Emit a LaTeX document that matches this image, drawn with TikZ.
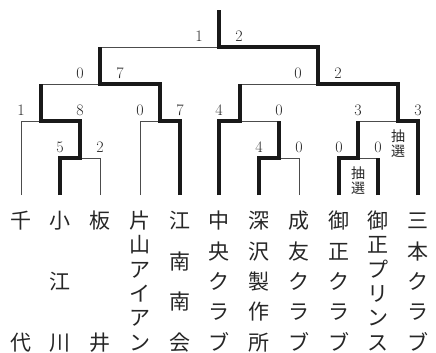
\documentclass[tikz,border=0pt]{standalone}
\usepackage{fontspec}
\usepackage{tikz}

\newfontfamily\jp{Noto Sans CJK JP}
% one character in a box of fixed height, so that spacing is even
\newcommand\kj[1]{\hbox to 1em{\hss\vrule height .88em depth .12em width 0pt#1\hss}}
% a name set top to bottom, first and last character at fixed places
\newcommand\tate[1]{\vbox to 140pt{\offinterlineskip
  \foreach \ch [count=\k] in {#1} {\ifnum\k>1 \vfill\fi\kj{\ch}}}}

\tikzset{
  win/.style={line width=3.2pt, draw=black!90},
  lose/.style={line width=0.9pt, draw=black!70},
  team/.style={anchor=north, inner xsep=0pt, inner ysep=15pt, font=\jp\fontsize{21}{21}\selectfont, text=black!85},
  score/.style={inner sep=0pt, above=5pt, font=\fontsize{16}{16}\selectfont, text=black!85},
  lottery/.style={inner sep=0pt, below=9pt, align=center, font=\jp\fontsize{14}{15}\selectfont, text=black!85},
}

\begin{document}
\begin{tikzpicture}[x=1pt, y=-1pt, line join=miter]
\useasboundingbox (0,0) rectangle (436,353);

\path (21,195) node[team] (t1){\tate{千,代}}
  (60,195) node[team] (t2){\tate{小,江,川}}
  (100,195) node[team] (t3){\tate{板,井}}
  (140,195) node[team] (t4){\tate{片,山,ア,イ,ア,ン}}
  (180,195) node[team] (t5){\tate{江,南,南,会}}
  (219,195) node[team] (t6){\tate{中,央,ク,ラ,ブ}}
  (259,195) node[team] (t7){\tate{深,沢,製,作,所}}
  (299,195) node[team] (t8){\tate{成,友,ク,ラ,ブ}}
  (339,195) node[team] (t9){\tate{御,正,ク,ラ,ブ}}
  (378,195) node[team] (t10){\tate{御,正,プ,リ,ン,ス}}
  (418,195) node[team] (t11){\tate{三,本,ク,ラ,ブ}};

% junctions of the bracket
\coordinate (m1) at (80,158);
\coordinate (m2) at (41,121);
\coordinate (m3) at (160,121);
\coordinate (m4) at (100,84);
\coordinate (m5) at (279,158);
\coordinate (m6) at (240,121);
\coordinate (m7) at (358,158);
\coordinate (m8) at (398,121);
\coordinate (m9) at (318,84);
\coordinate (m10) at (219,47);
\coordinate (top) at (219,10);

% thin lines of the losers
\draw[lose] (t1.north) |- (m2);
\draw[lose] (t3.north) |- (m1);
\draw[lose] (t4.north) |- (m3);
\draw[lose] (t8.north) |- (m5);
\draw[lose] (t10.north |- m7) -- (m7);
\draw[lose] (m2 |- m4) -- (m4);
\draw[lose] (m4 |- m10) -- (m10);
\draw[lose] (m6 |- m9) -- (m9);
\draw[lose] (m5 |- m6) -- (m6);
\draw[lose] (m7 |- m8) -- (m8);

% thick lines of the winners
\draw[win] (t2.north) |- (m1) |- (m2) -- (m2 |- m4);
\draw[win] (t5.north) |- (m3) |- (m4) -- (m4 |- m10);
\draw[win] (t6.north) |- (m6) -- (m6 |- m9);
\draw[win] (t7.north) |- (m5) -- (m5 |- m6);
\draw[win] (t9.north) |- (m7) -- (m7 |- m8);
\draw[win] (t10.north) -- (t10.north |- m7);
\draw[win] (t11.north) |- (m8) |- (m9) |- (m10) -- (top);

% scores
\node[score] (s1a) at (t2.north |- m1) {5};
\node[score] (s1b) at (t3.north |- m1) {2};
\node[score] (s2a) at (t1.north |- m2) {1};
\node[score] (s2b) at (m1 |- m2) {8};
\node[score] (s3a) at (t4.north |- m3) {0};
\node[score] (s3b) at (t5.north |- m3) {7};
\node[score, xshift=-20pt] (s4a) at (m4) {0};
\node[score, xshift=20pt] (s4b) at (m4) {7};
\node[score] (s5a) at (t7.north |- m5) {4};
\node[score] (s5b) at (t8.north |- m5) {0};
\node[score] (s6a) at (t6.north |- m6) {4};
\node[score] (s6b) at (m5 |- m6) {0};
\node[score] (s7a) at (t9.north |- m7) {0};
\node[score] (s7b) at (t10.north |- m7) {0};
\node[score] (s8a) at (m7 |- m8) {3};
\node[score] (s8b) at (t11.north |- m8) {3};
\node[score, xshift=-20pt] (s9a) at (m9) {0};
\node[score, xshift=20pt] (s9b) at (m9) {2};
\node[score, xshift=-20pt] (s10a) at (m10) {1};
\node[score, xshift=20pt] (s10b) at (m10) {2};

% drawn by lot
\node[lottery] (d7) at (m7) {抽\\選};
\node[lottery] (d8) at (m8) {抽\\選};
\end{tikzpicture}
\end{document}
